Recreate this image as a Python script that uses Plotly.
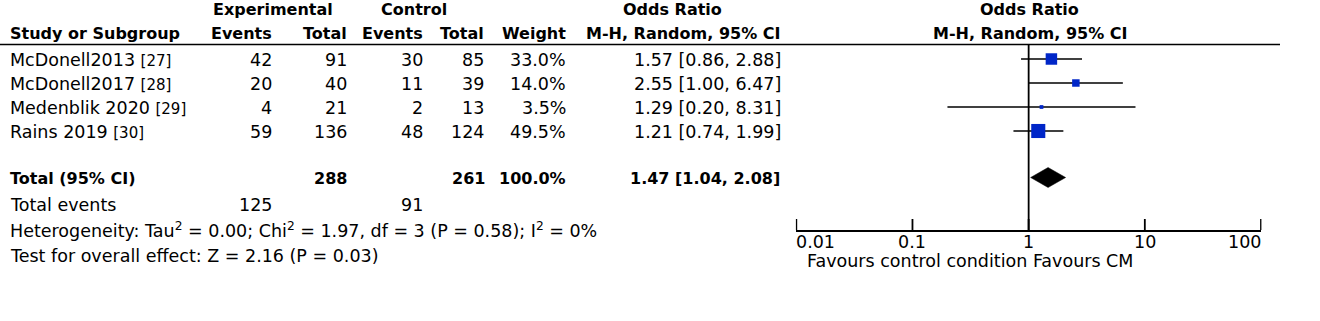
import math
import plotly.graph_objects as go

# ---------------- data ----------------
studies = ["McDonell2013", "McDonell2017", "Medenblik 2020", "Rains 2019"]
refs = ["[27]", "[28]", "[29]", "[30]"]
exp_events = [42, 20, 4, 59]
exp_total = [91, 40, 21, 136]
ctl_events = [30, 11, 2, 48]
ctl_total = [85, 39, 13, 124]
weights = [33.0, 14.0, 3.5, 49.5]
or_est = [1.57, 2.55, 1.29, 1.21]
ci_low = [0.86, 1.00, 0.20, 0.74]
ci_high = [2.88, 6.47, 8.31, 1.99]

pooled_est = 1.47
pooled_low = 1.04
pooled_high = 2.08
total_exp = 288
total_ctl = 261
total_weight = 100.0
events_exp_total = 125
events_ctl_total = 91

heterogeneity = "Heterogeneity: Tau<sup>2</sup> = 0.00; Chi<sup>2</sup> = 1.97, df = 3 (P = 0.58); I<sup>2</sup> = 0%"
overall_test = "Test for overall effect: Z = 2.16 (P = 0.03)"

tick_vals = [0.01, 0.1, 1, 10, 100]
tick_labels = ["0.01", "0.1", "1", "10", "100"]
favours_text = "Favours control condition Favours CM"

# ---------------- layout helpers ----------------
W, H = 1320, 321
FONT = "DejaVu Sans"
REG = 17.5
BOLD = 16
AX_LEFT, AX_RIGHT = 796.3, 1261.0
PAD = 0.004  # tiny range padding so end ticks are fully drawn
PLOT_TOP, PLOT_BOTTOM = 44.5, 230.0
TICK_LEN = 11
ROW0, ROW_STEP = 59.0, 24.0
TOTAL_ROW = 177.5
BLUE = "#0026c8"


def px(x):
    return x / W


def py(y):
    return 1 - y / H


def axis_px(v):
    # pixel position of a value on the log axis
    return AX_LEFT + (math.log10(v) + 2) / 4 * (AX_RIGHT - AX_LEFT)


fig = go.Figure()


def text(s, x, y, anchor="left", bold=False, size=None):
    if bold:
        s = "<b>" + s + "</b>"
    fig.add_annotation(
        xref="paper", yref="paper", x=px(x), y=py(y), text=s,
        showarrow=False, xanchor=anchor, yanchor="middle",
        borderpad=0, borderwidth=0,
        font=dict(family=FONT, size=size or (BOLD if bold else REG), color="black"),
    )


rows_y = [ROW0 + ROW_STEP * i for i in range(len(studies))]

# confidence intervals + squares
fig.add_trace(go.Scatter(
    x=or_est, y=rows_y, mode="markers",
    marker=dict(symbol="square", size=[2.0 * math.sqrt(w) for w in weights],
                color=BLUE, opacity=1, line=dict(width=0)),
    error_x=dict(type="data", symmetric=False,
                 array=[h - e for h, e in zip(ci_high, or_est)],
                 arrayminus=[e - l for e, l in zip(or_est, ci_low)],
                 color="black", thickness=1.6, width=0),
    hoverinfo="skip", showlegend=False, cliponaxis=False,
))

# line of no effect
fig.add_trace(go.Scatter(
    x=[1, 1], y=[PLOT_TOP, PLOT_BOTTOM], mode="lines",
    line=dict(color="black", width=1.8), hoverinfo="skip", showlegend=False,
    cliponaxis=False,
))

# axis ticks (drawn upward from the axis line)
tx, ty = [], []
for v in tick_vals:
    tx += [v, v, None]
    ty += [PLOT_BOTTOM, PLOT_BOTTOM - TICK_LEN, None]
fig.add_trace(go.Scatter(
    x=tx, y=ty, mode="lines", line=dict(color="black", width=1.8),
    hoverinfo="skip", showlegend=False, cliponaxis=False,
))

# pooled diamond
dh = 10
fig.add_trace(go.Scatter(
    x=[pooled_low, pooled_est, pooled_high, pooled_est, pooled_low],
    y=[TOTAL_ROW, TOTAL_ROW - dh, TOTAL_ROW, TOTAL_ROW + dh, TOTAL_ROW],
    mode="lines", fill="toself", fillcolor="black",
    line=dict(color="black", width=0.5), hoverinfo="skip", showlegend=False,
))

span = AX_RIGHT - AX_LEFT
pad_px = PAD / 4 * span
fig.update_layout(
    width=W, height=H,
    margin=dict(l=0, r=0, t=0, b=0),
    paper_bgcolor="white", plot_bgcolor="white",
    xaxis=dict(type="log", range=[-2 - PAD, 2 + PAD],
               domain=[px(AX_LEFT - pad_px), px(AX_RIGHT + pad_px)],
               showgrid=False, zeroline=False, showline=True, linecolor="black",
               linewidth=1.8, ticks="", showticklabels=False,
               anchor="y", fixedrange=True),
    yaxis=dict(range=[PLOT_BOTTOM, PLOT_TOP], domain=[py(PLOT_BOTTOM), py(PLOT_TOP)],
               visible=False, fixedrange=True),
)

# header rule
fig.add_shape(type="line", xref="paper", yref="paper",
              x0=0, x1=px(1280), y0=py(PLOT_TOP), y1=py(PLOT_TOP),
              line=dict(color="black", width=1.6))

# headers
H1, H2 = 9.5, 33.5
text("Experimental", 272.5, H1, "center", bold=True)
text("Control", 381, H1, "left", bold=True)
text("Odds Ratio", 672.5, H1, "center", bold=True)
text("Odds Ratio", 1029.5, H1, "center", bold=True)
text("Study or Subgroup", 10, H2, "left", bold=True)
text("Events", 272, H2, "right", bold=True)
text("Total", 347, H2, "right", bold=True)
text("Events", 423, H2, "right", bold=True)
text("Total", 484, H2, "right", bold=True)
text("Weight", 566, H2, "right", bold=True)
text("M-H, Random, 95% CI", 780, H2, "right", bold=True)
text("M-H, Random, 95% CI", 1029.5, H2, "center", bold=True)

# study rows
for i, name in enumerate(studies):
    y = rows_y[i] + 1
    text(name + " <span style='font-size:15px'>" + refs[i] + "</span>", 10, y, "left")
    text(str(exp_events[i]), 272, y, "right")
    text(str(exp_total[i]), 347, y, "right")
    text(str(ctl_events[i]), 423, y, "right")
    text(str(ctl_total[i]), 484, y, "right")
    text(f"{weights[i]:.1f}%", 566, y, "right")
    text(f"{or_est[i]:.2f} [{ci_low[i]:.2f}, {ci_high[i]:.2f}]", 781, y, "right")

# total row
TY = 178.5
text("Total (95% CI)", 10, TY, "left", bold=True)
text(str(total_exp), 347, TY, "right", bold=True)
text(str(total_ctl), 485, TY, "right", bold=True)
text(f"{total_weight:.1f}%", 566, TY, "right", bold=True)
text(f"{pooled_est:.2f} [{pooled_low:.2f}, {pooled_high:.2f}]", 780, TY, "right", bold=True)

text("Total events", 10, 205, "left")
text(str(events_exp_total), 272, 205, "right")
text(str(events_ctl_total), 423, 205, "right")
text(heterogeneity, 10, 230, "left")
text(overall_test, 10, 255.5, "left")

# axis tick labels
for i, (v, lab) in enumerate(zip(tick_vals, tick_labels)):
    anchor = "left" if i == 0 else ("right" if i == len(tick_vals) - 1 else "center")
    text(lab, axis_px(v), 242, anchor)

text(favours_text, 807.5, 261, "left")

fig.write_html(
    "out.html",
    config={"displayModeBar": False, "staticPlot": True},
    post_script="document.body.style.margin='0';document.body.style.overflow='hidden';",
)
